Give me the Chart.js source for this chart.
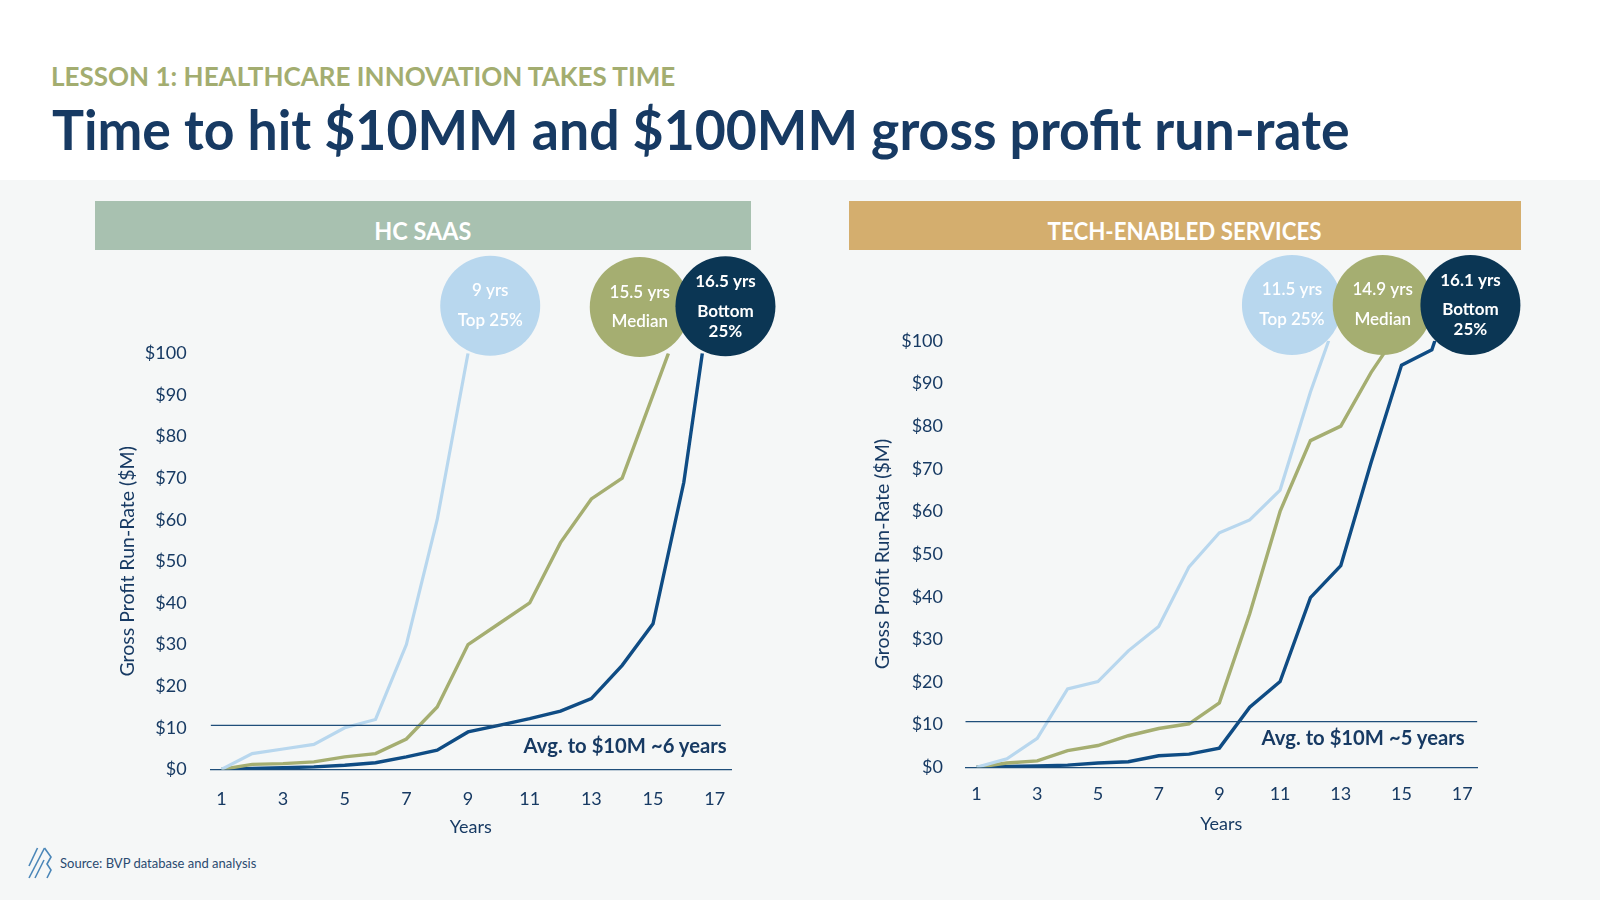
<!DOCTYPE html>
<html>
<head>
<meta charset="utf-8">
<script src="https://cdn.jsdelivr.net/npm/chart.js@4.4.1/dist/chart.umd.min.js"></script>
<style>
  body { margin: 0; width: 1600px; height: 900px; background: #fff; font-family: Lato, sans-serif; position: relative; overflow: hidden; }
  #band { position: absolute; left: 0; top: 180px; width: 1600px; height: 720px; background: #f5f7f7; }
  .t { position: absolute; white-space: nowrap; line-height: 1; transform-origin: left center; }
  .hdr { position: absolute; top: 201px; height: 49px; box-sizing: border-box; padding-top: 9px; display: flex; align-items: center; justify-content: center; }
  .hdr span { color: #fff; font-weight: 700; font-size: 25px; line-height: 1; white-space: nowrap; display: inline-block; }
  canvas { position: absolute; }
</style>
</head>
<body>
<div id="band"></div>
<div class="t" data-w="624" style="left:51px;top:62px;font-size:27px;font-weight:700;color:#a3ad70">LESSON 1: HEALTHCARE INNOVATION TAKES TIME</div>
<div class="t" data-w="1297" style="left:52px;top:102px;font-size:55px;font-weight:700;color:#173a63">Time to hit $10MM and $100MM gross profit run-rate</div>

<div class="hdr" style="left:95px;width:656px;background:#a8c1b0"><span data-w="97">HC SAAS</span></div>
<div class="hdr" style="left:849px;width:672px;background:#d4ae6e"><span data-w="274">TECH-ENABLED SERVICES</span></div>

<canvas id="saas" width="700" height="600" style="left:100px;top:240px;width:700px;height:600px"></canvas>
<canvas id="tes" width="710" height="600" style="left:850px;top:240px;width:710px;height:600px"></canvas>

<div class="t" data-w="203" style="right:873px;top:735px;font-size:20px;font-weight:700;color:#173a63;transform-origin:right center">Avg. to $10M ~6 years</div>
<div class="t" data-w="203" style="right:135px;top:727px;font-size:20px;font-weight:700;color:#173a63;transform-origin:right center">Avg. to $10M ~5 years</div>

<svg style="position:absolute;left:0;top:0" width="60" height="900">
  <g stroke="#4a86b8" stroke-width="1.6" fill="none">
    <path d="M29 866 L37.5 848"/>
    <path d="M29 878 L44.5 848"/>
    <path d="M35 878 L44 860"/>
    <path d="M44.5 848 L51 857 L47 864 L51 870 L47 878"/>
  </g>
</svg>
<div class="t" style="left:60px;top:857px;font-size:13px;color:#2a4a70">Source: BVP database and analysis</div>

<script>
// x-axis tick labels (years)
const yearTicks = [1, 3, 5, 7, 9, 11, 13, 15, 17];

// HC SaaS
const saasTopYears = [1, 2, 3, 4, 5, 6, 7, 8, 9];
const saasTopValues = [0, 3.8, 4.9, 6, 10, 12, 30, 60, 100];
const saasMedYears = [1, 2, 3, 4, 5, 6, 7, 8, 9, 10, 11, 12, 13, 14, 15.5];
const saasMedValues = [0, 1.2, 1.4, 1.8, 3, 3.8, 7.3, 15, 30, 35, 40, 54.5, 65, 70, 100];
const saasBotYears = [1, 2, 3, 4, 5, 6, 7, 8, 9, 10, 11, 12, 13, 14, 15, 16, 16.6];
const saasBotValues = [0, 0.2, 0.4, 0.6, 1, 1.6, 3, 4.6, 9, 10.6, 12.2, 14, 17, 25, 35, 69, 100];
const saasAvgLevel = 10.6;
const saasBubbleLabels = [["9 yrs", "Top 25%"], ["15.5 yrs", "Median"], ["16.5 yrs", "Bottom", "25%"]];

// Tech-enabled services
const tesTopYears = [1, 2, 3, 4, 5, 6, 7, 8, 9, 10, 11, 12, 12.6];
const tesTopValues = [0, 2, 6.8, 18.4, 20.1, 27.3, 33, 47, 55, 58, 65, 88, 100];
const tesMedYears = [1, 2, 3, 4, 5, 6, 7, 8, 9, 10, 11, 12, 13, 14, 14.7];
const tesMedValues = [0, 1, 1.5, 3.9, 5.1, 7.4, 9.1, 10.2, 15.1, 36, 60, 76.6, 80, 92.6, 100];
const tesBotYears = [1, 2, 3, 4, 5, 6, 7, 8, 9, 10, 11, 12, 13, 14, 15, 16, 16.1];
const tesBotValues = [0, 0.2, 0.3, 0.5, 1, 1.3, 2.7, 3.1, 4.5, 14.1, 20.1, 39.8, 47.3, 71.5, 94.3, 97.9, 100];
const tesAvgLevel = 10.7;
const tesBubbleLabels = [["11.5 yrs", "Top 25%"], ["14.9 yrs", "Median"], ["16.1 yrs", "Bottom", "25%"]];

const NAVY = "#173a63";
const colTop = "#b8d7ee", colMed = "#a5ae71", colBot = "#0f4c84", colBotBubble = "#0b3654";

const pts = (xs, ys) => xs.map((x, i) => ({ x: x, y: ys[i] }));

const bubbles = {
  id: "bubbles",
  afterDatasetsDraw(chart, args, opts) {
    const { ctx } = chart;
    const sx = chart.scales.x, sy = chart.scales.y;
    opts.items.forEach(b => {
      const cx = sx.getPixelForValue(b.x), cy = sy.getPixelForValue(b.y);
      ctx.save();
      ctx.beginPath();
      ctx.arc(cx, cy, 50, 0, Math.PI * 2);
      ctx.fillStyle = b.color;
      ctx.fill();
      ctx.fillStyle = "#fff";
      ctx.textAlign = "center";
      ctx.textBaseline = "middle";
      b.lines.forEach((t, i) => {
        ctx.font = b.weight + " 17px Lato";
        ctx.fillText(t, cx, cy + b.offsets[i]);
      });
      ctx.restore();
    });
  }
};

function makeChart(id, series, avgLevel, bubbleItems, g) {
  new Chart(document.getElementById(id), {
    type: "line",
    data: {
      datasets: [
        { data: [{ x: g.xmin, y: avgLevel }, { x: g.avgEnd, y: avgLevel }], borderColor: "#1f4e7a", borderWidth: 1.2 },
        { data: series[0], borderColor: colTop, borderWidth: 3.2 },
        { data: series[1], borderColor: colMed, borderWidth: 3.4 },
        { data: series[2], borderColor: colBot, borderWidth: 3.4 }
      ]
    },
    options: {
      responsive: false,
      animation: false,
      elements: { point: { radius: 0 }, line: { tension: 0 } },
      layout: { padding: { top: g.top, right: g.right, left: 0, bottom: 0 } },
      plugins: { legend: { display: false }, tooltip: { enabled: false }, bubbles: { items: bubbleItems } },
      scales: {
        x: {
          type: "linear", min: g.xmin, max: g.xmax,
          grid: { display: false },
          border: { display: true, color: "#1f4e7a", width: 1.2 },
          afterBuildTicks: s => { s.ticks = yearTicks.map(v => ({ value: v })); },
          afterFit: s => { s.height = g.xh; },
          ticks: { color: NAVY, font: { family: "Lato", size: 18 }, padding: g.xpad, maxRotation: 0, autoSkip: false },
          title: { display: true, text: "Years", color: NAVY, font: { family: "Lato", size: 18 }, padding: { top: 0, bottom: g.xtpad } }
        },
        y: {
          min: 0, max: 100,
          grid: { display: false },
          border: { display: false },
          afterFit: s => { s.width = g.left; },
          ticks: { stepSize: 10, color: NAVY, font: { family: "Lato", size: 18 }, padding: g.ypad, callback: v => "$" + v },
          title: { display: true, text: "Gross Profit Run-Rate ($M)", color: NAVY, font: { family: "Lato", size: 19.5 }, padding: { top: g.ytpad, bottom: 0 } }
        }
      }
    },
    plugins: [bubbles]
  });
}

function bubbleSet(labels, pos) {
  const cols = [colTop, colMed, colBotBubble];
  return labels.map((l, i) => ({
    x: pos[i][0], y: pos[i][1], color: cols[i], lines: l,
    weight: i === 2 ? "700" : "600",
    offsets: l.length === 2 ? [-15, 14.5] : [-24.5, 5, 25]
  }));
}

makeChart("saas",
  [pts(saasTopYears, saasTopValues), pts(saasMedYears, saasMedValues), pts(saasBotYears, saasBotValues)],
  saasAvgLevel,
  bubbleSet(saasBubbleLabels, [[9.72, 111.4], [14.57, 111.1], [17.35, 111.3]]),
  { xmin: 0.65, xmax: 17.53, avgEnd: 17.2, top: 113.3, right: 69, left: 110.6, xh: 70.6, xpad: 11, xtpad: 1.7, ypad: 16, ytpad: 15.8 });

makeChart("tes",
  [pts(tesTopYears, tesTopValues), pts(tesMedYears, tesMedValues), pts(tesBotYears, tesBotValues)],
  tesAvgLevel,
  bubbleSet(tesBubbleLabels, [[11.39, 108.4], [14.38, 108.4], [17.27, 108.4]]),
  { xmin: 0.63, xmax: 17.5, avgEnd: 17.5, top: 100.8, right: 82.6, left: 115.3, xh: 72.7, xpad: 8, xtpad: 4.7, ypad: 14.3, ytpad: 20.9 });

// squeeze headline texts to the widths in the reference
document.querySelectorAll("[data-w]").forEach(el => {
  const w = el.getBoundingClientRect().width;
  const target = +el.dataset.w;
  el.style.transform = "scaleX(" + (target / w).toFixed(3) + ")";
  if (el.tagName === "SPAN") el.style.transformOrigin = "center";
});
</script>
</body>
</html>
